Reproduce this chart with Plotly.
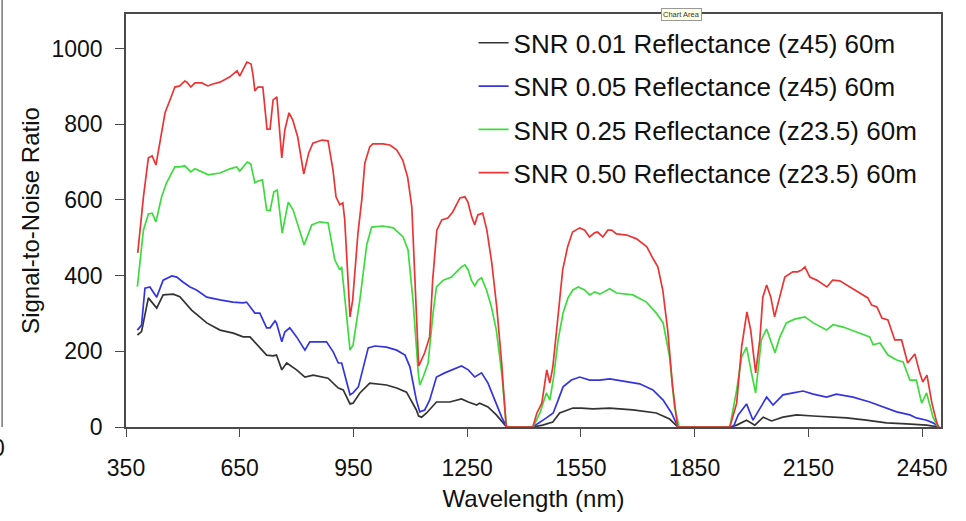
import plotly.graph_objects as go

# --------------------------
# Data (wavelength in nm, SNR)
# --------------------------
names = [
    "SNR 0.01 Reflectance (z45) 60m",
    "SNR 0.05 Reflectance (z45) 60m",
    "SNR 0.25 Reflectance (z23.5) 60m",
    "SNR 0.50 Reflectance (z23.5) 60m",
]
colors = ["#333333", "#3434e0", "#3cdc3c", "#ec3434"]

wl_001 = [380, 391, 409, 431, 448, 475, 492, 523, 563, 598, 633, 659, 677, 703, 721, 738, 747, 761,
          774, 800, 822, 844, 883, 910, 923, 941, 949, 967, 993, 1037, 1064, 1090, 1116, 1122, 1130,
          1143, 1169, 1204, 1235, 1253, 1275, 1283, 1305, 1327, 1354, 1423, 1449, 1476, 1494, 1529,
          1551, 1582, 1626, 1687, 1749, 1784, 1806, 1943, 1961, 1987, 2009, 2031, 2053, 2083, 2119,
          2163, 2207, 2251, 2303, 2356, 2409, 2462, 2495]
snr_001 = [243, 252, 341, 314, 349, 351, 344, 309, 275, 256, 248, 238, 238, 211, 190, 188, 190, 151,
           169, 151, 132, 137, 129, 103, 98, 61, 63, 90, 116, 111, 103, 92, 45, 29, 26,
           37, 66, 66, 74, 66, 58, 63, 53, 32, 0, 0, 5, 13, 37, 50,
           50, 48, 50, 45, 37, 21, 0, 0, 5, 18, 5, 26, 16, 26, 32,
           29, 26, 24, 18, 11, 8, 5, 0]

wl_005 = [380, 391, 400, 413, 431, 448, 471, 484, 500, 519, 536, 563, 598, 632, 659, 668, 690, 703,
          721, 730, 743, 747, 761, 769, 782, 800, 822, 835, 879, 897, 910, 919, 941, 949, 963, 989,
          1007, 1037, 1064, 1086, 1099, 1116, 1125, 1138, 1151, 1169, 1191, 1213, 1235, 1253, 1270,
          1288, 1305, 1323, 1341, 1354, 1423, 1459, 1477, 1490, 1503, 1525, 1547, 1573, 1600, 1626,
          1661, 1705, 1740, 1767, 1789, 1806, 1952, 1965, 1987, 2004, 2026, 2040, 2057, 2083, 2110,
          2136, 2163, 2198, 2224, 2268, 2312, 2347, 2383, 2418, 2435, 2462, 2479, 2495]
snr_005 = [256, 269, 367, 370, 343, 388, 399, 396, 383, 370, 362, 343, 336, 330, 328, 330, 301, 301,
           262, 262, 280, 275, 225, 251, 262, 238, 203, 225, 225, 198, 169, 169, 85, 90, 106, 209,
           214, 211, 203, 190, 159, 71, 40, 45, 71, 132, 143, 151, 161, 151, 132,
           143, 116, 71, 26, 0, 0, 24, 37, 71, 106, 124, 132, 124, 124, 127,
           122, 114, 98, 71, 37, 0, 0, 32, 61, 18, 55, 79, 58, 85, 90,
           95, 87, 79, 87, 79, 66, 53, 40, 32, 24, 18, 11, 0]

wl_025 = [380, 396, 409, 419, 429, 444, 457, 479, 492, 505, 521, 532, 567, 580, 598, 624, 642, 650,
          659, 670, 679, 690, 699, 710, 721, 730, 740, 749, 762, 778, 791, 820, 840, 861, 883, 901,
          914, 919, 941, 949, 967, 985, 998, 1028, 1055, 1081, 1094, 1107, 1121, 1125, 1134, 1147,
          1160, 1169, 1187, 1209, 1222, 1235, 1244, 1253, 1261, 1270, 1279, 1288, 1301, 1314, 1327,
          1341, 1354, 1424, 1442, 1459, 1468, 1477, 1490, 1503, 1516, 1529, 1543, 1560, 1573, 1587,
          1600, 1613, 1626, 1644, 1687, 1723, 1749, 1767, 1784, 1797, 1809, 1943, 1961, 1974, 1987,
          2000, 2011, 2026, 2040, 2050, 2062, 2075, 2092, 2114, 2141, 2163, 2198, 2215, 2242, 2277,
          2312, 2321, 2339, 2360, 2383, 2400, 2418, 2435, 2449, 2462, 2479, 2492]
snr_025 = [371, 520, 563, 565, 542, 608, 645, 687, 687, 690, 674, 682, 666, 668, 671, 682, 687, 676,
           687, 700, 695, 645, 650, 653, 573, 571, 621, 626, 512, 594, 573, 481, 534, 542, 539, 441,
           415, 423, 203, 217, 336, 481, 528, 531, 526, 502, 468, 336, 143, 111, 132, 169,
           301, 370, 388, 396, 410, 423, 428, 415, 388, 373, 388, 394, 362, 317, 256,
           143, 0, 0, 37, 90, 71, 124, 230, 301, 341, 362, 370, 362, 349, 357,
           351, 357, 365, 354, 349, 330, 301, 275, 185, 53, 0, 0, 98, 185, 211,
           143, 90, 230, 259, 230, 196, 238, 275, 285, 291, 275, 256, 270, 264, 251,
           238, 217, 222, 190, 177, 172, 124, 124, 63, 90, 26, 0]

wl_050 = [381, 396, 409, 419, 429, 440, 453, 466, 479, 492, 505, 511, 521, 532, 550, 566, 579, 598,
          624, 643, 650, 658, 669, 680, 685, 690, 698, 711, 722, 730, 738, 748, 761, 769, 780, 790,
          803, 819, 832, 843, 867, 883, 896, 904, 914, 922, 927, 941, 948, 962, 972, 980, 993, 1001,
          1028, 1046, 1064, 1080, 1093, 1104, 1112, 1122, 1138, 1151, 1159, 1170, 1183, 1199, 1212,
          1231, 1244, 1252, 1262, 1270, 1278, 1291, 1302, 1315, 1328, 1341, 1352, 1354, 1423, 1434,
          1447, 1460, 1468, 1476, 1486, 1494, 1502, 1515, 1528, 1547, 1560, 1573, 1586, 1594, 1608,
          1621, 1631, 1644, 1671, 1697, 1724, 1739, 1753, 1766, 1779, 1792, 1805, 1943, 1961, 1974,
          1988, 1998, 2011, 2022, 2030, 2040, 2051, 2061, 2075, 2088, 2109, 2122, 2133, 2141, 2154,
          2172, 2199, 2214, 2233, 2259, 2286, 2307, 2317, 2331, 2344, 2360, 2378, 2396, 2412, 2431,
          2444, 2452, 2463, 2476, 2489, 2494]
snr_050 = [460, 608, 711, 716, 692, 758, 830, 864, 898, 901, 914, 911, 898, 909, 909, 901, 906, 911,
           925, 941, 927, 943, 964, 959, 930, 888, 898, 898, 787, 787, 864, 872, 711, 785, 830, 811,
           766, 668, 724, 750, 758, 756, 679, 608, 587, 592, 547, 291, 336, 513, 600, 697, 740, 748,
           748, 745, 732, 705, 660, 581, 388, 161, 196, 238, 388, 520, 547, 552, 568,
           605, 608, 594, 555, 534, 560, 565, 520, 433, 317, 169, 11, 0, 0, 37,
           63, 151, 116, 159, 256, 343, 415, 476, 515, 526, 520, 502, 513, 515, 502,
           520, 520, 510, 507, 497, 476, 447, 423, 362, 256, 106, 0, 0, 63, 211,
           304, 256, 143, 230, 343, 375, 343, 291, 343, 396, 410, 410, 415, 423, 396,
           388, 370, 388, 386, 370, 354, 341, 322, 317, 288, 283, 230, 230, 169, 193,
           143, 119, 137, 63, 11, 0]

x_ticks = [350, 650, 950, 1250, 1550, 1850, 2150, 2450]
y_ticks = [0, 200, 400, 600, 800, 1000]

series = [(wl_001, snr_001), (wl_005, snr_005), (wl_025, snr_025), (wl_050, snr_050)]

# --------------------------
# Figure
# --------------------------
font_family = "Liberation Sans, Arial, sans-serif"
axis_color = "#4a4a4a"

fig = go.Figure()
for name, color, (wl, snr) in zip(names, colors, series):
    fig.add_trace(go.Scatter(x=wl, y=snr, mode="lines", name=name, legendgroup=name,
                             line=dict(color=color, width=1.7)))

fig.update_layout(
    width=966, height=521,
    margin=dict(l=126, r=25, t=14, b=94),
    paper_bgcolor="white", plot_bgcolor="white",
    font=dict(family=font_family, color="#111111"),
    showlegend=True,
    legend=dict(x=0.4265, y=0.987, xanchor="left", yanchor="top",
                font=dict(size=26, color="#111111"), tracegroupgap=6.5,
                bgcolor="rgba(0,0,0,0)"),
)

fig.update_xaxes(
    range=[350, 2500], tickvals=x_ticks, showgrid=False, zeroline=False,
    showline=True, linecolor=axis_color, linewidth=1.5, mirror=True,
    ticks="outside", ticklen=8, tickcolor=axis_color, tickwidth=1,
    tickfont=dict(size=23), ticklabelstandoff=12, automargin=False,
    title=dict(text="Wavelength (nm)", font=dict(size=24), standoff=10),
)
fig.update_yaxes(
    range=[0, 1091], tickvals=y_ticks, showgrid=False, zeroline=False,
    showline=True, linecolor=axis_color, linewidth=1.5, mirror=True,
    ticks="outside", ticklen=9, tickcolor=axis_color, tickwidth=1,
    tickfont=dict(size=23), ticklabelstandoff=8, automargin=False,
    title=dict(text="Signal-to-Noise Ratio", font=dict(size=24), standoff=5),
)

# stray bits of the neighbouring chart and the Excel hover tag seen in the screenshot
fig.add_shape(type="line", xref="paper", yref="paper", x0=-0.152, x1=-0.152, y0=0, y1=1.04,
              line=dict(color="#777777", width=1.5))
fig.add_annotation(text="0", xref="paper", yref="paper", x=-0.1454, y=-0.087, xanchor="right",
                   showarrow=False, font=dict(size=23, color="#111111"))
fig.add_annotation(text="Chart Area", xref="paper", yref="paper", x=0.7067, y=1.0145,
                   showarrow=False, font=dict(size=7.5, color="#333333"),
                   bgcolor="#ffffe6", bordercolor="#999999", borderwidth=1, borderpad=1)

# the page has a default 8px body margin; drop it so the figure sits at the window corner
fig.write_html("out.html", config={"displayModeBar": False},
               post_script="document.body.style.margin = '0px';")
